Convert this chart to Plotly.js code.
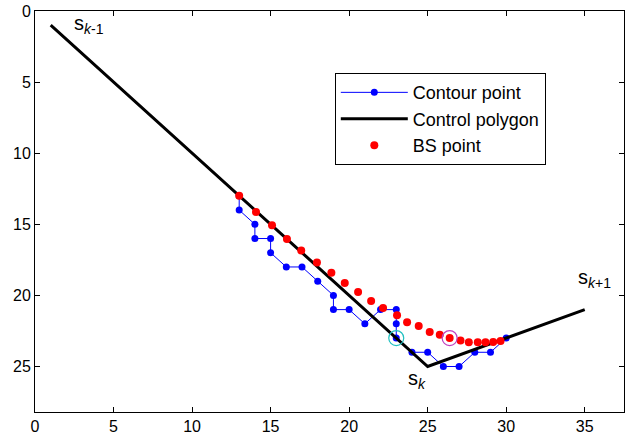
<!DOCTYPE html>
<html>
<head>
<meta charset="utf-8">
<script src="https://cdn.plot.ly/plotly-3.0.1.min.js"></script>
<style>html,body{margin:0;padding:0;background:#fff;}#chart{width:626px;height:437px;}</style>
</head>
<body>
<div id="chart"></div>
<script>
// Contour points
const contourX = [13,13,14,14,15,15,16,17,18,19,19,20,21,22,23,23,23,24,25,26,27,28,29,30];
const contourY = [13,14,15,16,16,17,18,18,19,20,21,21,22,21,21,22,23,24,24,25,25,24,24,23];
// Control polygon
const polyX = [1,25,35];
const polyY = [1,25,21];
// BS points
const bsX = [13,14.07,15.09,16.04,16.95,17.95,18.87,19.72,20.57,21.4,22.16,23.05,23.69,24.43,25.13,25.77,26.4,27.09,27.62,28.19,28.68,29.17,29.64];
const bsY = [13,14.13,15.07,16.03,16.85,17.68,18.4,19.13,19.76,20.4,20.89,21.4,21.88,22.16,22.58,22.77,23.0,23.17,23.3,23.3,23.3,23.28,23.2];
// Highlighted points
const cyanPt = [23,23];
const magentaPt = [26.4,23.0];
// Labels
const labelText = ["s<sub><i>k</i>-1</sub>","s<sub><i>k</i></sub>","s<sub><i>k</i>+1</sub>"];
const labelX = [2.35,23.65,34.45];
const labelY = [0.92,25.92,18.8];
const xTicks = [0,5,10,15,20,25,30,35];
const yTicks = [0,5,10,15,20,25];

const traces = [
  {x: contourX, y: contourY, type:'scatter', mode:'lines+markers', name:'Contour point',
   line:{color:'#0000ff', width:1}, marker:{color:'#0000ff', size:7}},
  {x: polyX, y: polyY, type:'scatter', mode:'lines', name:'Control polygon',
   line:{color:'#000000', width:3}},
  {x: bsX, y: bsY, type:'scatter', mode:'markers', name:'BS point',
   marker:{color:'#ff0000', size:8}},
  {x:[cyanPt[0]], y:[cyanPt[1]], type:'scatter', mode:'markers', showlegend:false,
   marker:{color:'rgba(0,0,0,0)', size:15, line:{color:'#20c0c0', width:1.2}}},
  {x:[magentaPt[0]], y:[magentaPt[1]], type:'scatter', mode:'markers', showlegend:false,
   marker:{color:'rgba(0,0,0,0)', size:15, line:{color:'#c040c0', width:1.2}}}
];

const annotations = labelText.map((t,i)=>({x:labelX[i], y:labelY[i], xref:'x', yref:'y', text:t,
  xanchor:'left', yanchor:'middle', yshift:0,
  showarrow:false, font:{family:'Liberation Sans, Arial, sans-serif', size:20, color:'#000'}}));

const layout = {
  width:626, height:437,
  margin:{l:35, r:2, t:11, b:25, pad:0},
  paper_bgcolor:'#fff', plot_bgcolor:'#fff',
  font:{family:'Liberation Sans, Arial, sans-serif', size:16, color:'#000'},
  xaxis:{range:[0,37.5], tickvals:xTicks, ticks:'inside', ticklen:5, tickcolor:'#000',
    showline:true, linecolor:'#000', linewidth:1, mirror:'ticks', showgrid:false, zeroline:false,
    tickfont:{size:16}},
  yaxis:{range:[28.2,0], tickvals:yTicks, ticks:'inside', ticklen:5, tickcolor:'#000',
    showline:true, linecolor:'#000', linewidth:1, mirror:'ticks', showgrid:false, zeroline:false,
    tickfont:{size:16}},
  showlegend:true,
  legend:{x:0.509, y:0.845, xanchor:'left', yanchor:'top', bgcolor:'#fff',
    bordercolor:'#000', borderwidth:1, font:{size:18}, tracegroupgap:0, itemwidth:67},
  annotations: annotations
};

Plotly.newPlot('chart', traces, layout, {displayModeBar:false, staticPlot:true});
</script>
</body>
</html>
